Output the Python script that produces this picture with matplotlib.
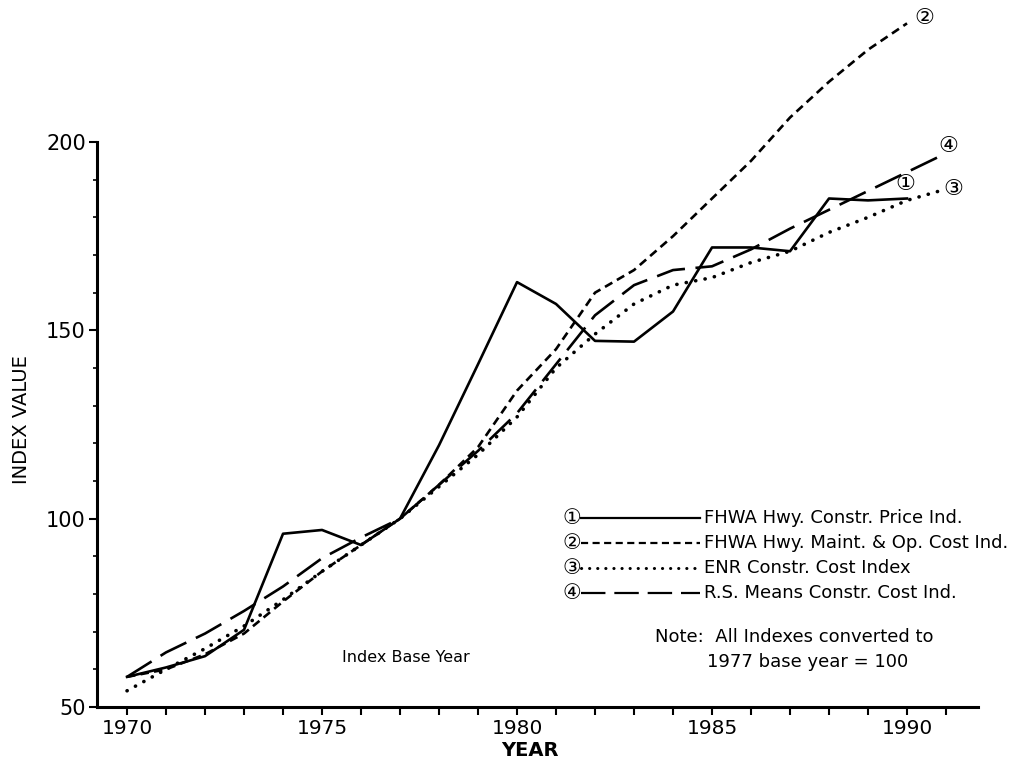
import matplotlib
matplotlib.use("Agg")
import matplotlib.pyplot as plt
from matplotlib.lines import Line2D
from matplotlib.ticker import MultipleLocator, FixedLocator

plt.rcParams['font.family'] = ['DejaVu Sans', 'Noto Sans CJK JP']

# ---------------- data ----------------
years = list(range(1970, 1991))
years_ext = list(range(1970, 1992))

fhwa_constr = [58, 60.5, 63.5, 70.5, 96, 97, 93, 100, 119.5, 141, 162.8,
               157, 147.2, 147, 155, 172, 172, 171, 185, 184.5, 185]
fhwa_maint = [58, 60, 64, 69.5, 78, 86, 93, 100, 109, 119, 134,
              145, 160, 166, 175, 185, 195, 206.5, 216, 224.5, 231.5]
enr_cost = [54.3, 60, 65.5, 71.5, 78.5, 86, 93, 100, 108.5, 117, 127,
            140, 149, 157, 162, 164, 168, 171, 176, 180, 184.5, 187.5]
rs_means = [58, 64.5, 69.5, 75.5, 82, 89.5, 95, 100, 109, 118, 128,
            141, 154, 162, 166, 167, 171.5, 177, 182, 187, 192, 197]

series_labels = ["FHWA Hwy. Constr. Price Ind.",
                 "FHWA Hwy. Maint. & Op. Cost Ind.",
                 "ENR Constr. Cost Index",
                 "R.S. Means Constr. Cost Ind."]
series_marks = ["\u2460", "\u2461", "\u2462", "\u2463"]

x_ticks_labeled = [1970, 1975, 1980, 1985, 1990]
y_ticks_labeled = [50, 100, 150, 200]
y_minor_ticks = [60, 70, 80, 90, 110, 120, 130, 140, 160, 170, 180, 190]

# ---------------- figure ----------------
W, H = 1024, 760
fig = plt.figure(figsize=(W / 100, H / 100), dpi=100)
fig.patch.set_facecolor('white')

def fx(px):
    return px / W

def fy(py):
    return 1 - py / H

ax = fig.add_axes([fx(97), fy(707), fx(978) - fx(97), fy(0) - fy(707)])
ax.set_xlim(1969.23, 1991.82)
ax.set_ylim(50, 237.7)

lw = 1.9
styles = [
    dict(linestyle='-'),
    dict(linestyle=(0, (3.2, 2.0))),
    dict(linestyle=(0, (0.05, 2.6)), dash_capstyle='round'),
    dict(linestyle=(0, (11, 4))),
]
data = [(years, fhwa_constr), (years, fhwa_maint), (years_ext, enr_cost), (years_ext, rs_means)]
for (xs, ys), st in zip(data, styles):
    ax.plot(xs, ys, color='black', linewidth=lw if st.get('dash_capstyle') is None else 2.6,
            clip_on=False, **st)

# curve end labels (circled numbers)
end_label_pos = [(1989.95, 188.8), (1990.45, 233.0), (1991.2, 187.5), (1991.05, 199.0)]
for mark, (xx, yy) in zip(series_marks, end_label_pos):
    ax.text(xx, yy, mark, fontsize=16, ha='center', va='center', clip_on=False)

# spines
for s in ['top', 'right']:
    ax.spines[s].set_visible(False)
ax.spines['left'].set_bounds(50, 200)
ax.spines['left'].set_linewidth(2.2)
ax.spines['bottom'].set_linewidth(2.2)

ax.xaxis.set_major_locator(FixedLocator(x_ticks_labeled))
ax.xaxis.set_minor_locator(MultipleLocator(1))
ax.yaxis.set_major_locator(FixedLocator(y_ticks_labeled))
ax.yaxis.set_minor_locator(FixedLocator(y_minor_ticks))
ax.tick_params(axis='x', which='both', direction='out', length=6, width=1.5,
               labelsize=14.5, pad=3)
ax.tick_params(axis='y', which='major', direction='out', length=6, width=1.5,
               labelsize=15, pad=2)
ax.tick_params(axis='y', which='minor', direction='out', length=3, width=1.2)
ax.set_xticklabels([str(v) for v in x_ticks_labeled])
ax.set_yticklabels([str(v) for v in y_ticks_labeled])

# axis titles
fig.text(fx(530), fy(750), "YEAR", fontsize=14, ha='center', va='center', fontweight='bold')
fig.text(fx(22), fy(420), "INDEX VALUE", fontsize=14, ha='center', va='center', rotation=90)

# legend (manual)
rows_y = [518, 543, 568, 593]
for mark, lab, st, ry in zip(series_marks, series_labels, styles, rows_y):
    fig.text(fx(572), fy(ry), mark, fontsize=15, ha='center', va='center')
    ln = Line2D([fx(581), fx(700)], [fy(ry), fy(ry)], transform=fig.transFigure,
                color='black', linewidth=1.6 if st.get('dash_capstyle') is None else 2.2, **st)
    fig.add_artist(ln)
    fig.text(fx(704), fy(ry), lab, fontsize=13, ha='left', va='center')

fig.text(fx(655), fy(637), "Note:  All Indexes converted to", fontsize=13, ha='left', va='center')
fig.text(fx(707), fy(662), "1977 base year = 100", fontsize=13, ha='left', va='center')
fig.text(fx(342), fy(657), "Index Base Year", fontsize=11.5, ha='left', va='center')

fig.savefig("out.png", dpi=100, facecolor='white')
